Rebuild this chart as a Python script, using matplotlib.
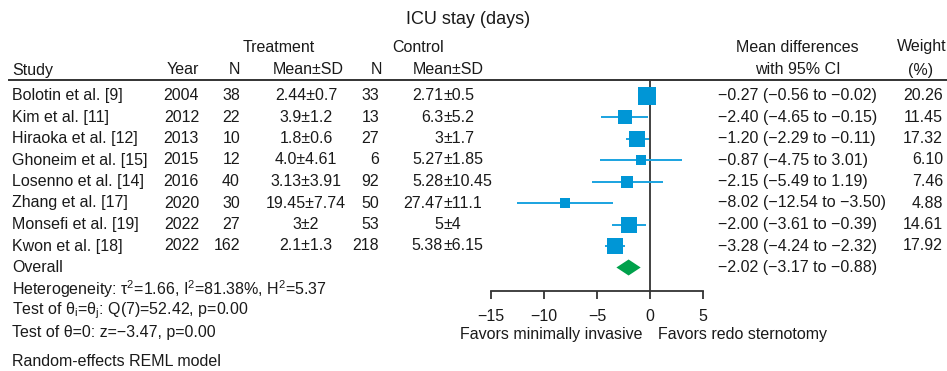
import matplotlib
matplotlib.use("Agg")
import numpy as np
import matplotlib.pyplot as plt

plt.rcParams['font.family'] = ['Liberation Sans', 'DejaVu Sans']
plt.rcParams['mathtext.fontset'] = 'custom'
plt.rcParams['mathtext.rm'] = 'Liberation Sans'
plt.rcParams['mathtext.it'] = 'Liberation Sans:italic'

studies = ["Bolotin et al. [9]", "Kim et al. [11]", "Hiraoka et al. [12]", "Ghoneim et al. [15]",
           "Losenno et al. [14]", "Zhang et al. [17]", "Monsefi et al. [19]", "Kwon et al. [18]"]
years = [2004, 2012, 2013, 2015, 2016, 2020, 2022, 2022]
n_trt = [38, 22, 10, 12, 40, 30, 27, 162]
msd_trt = ["2.44±0.7", "3.9±1.2", "1.8±0.6", "4.0±4.61", "3.13±3.91", "19.45±7.74", "3±2", "2.1±1.3"]
n_ctl = [33, 13, 27, 6, 92, 50, 53, 218]
msd_ctl = ["2.71±0.5", "6.3±5.2", "3±1.7", "5.27±1.85", "5.28±10.45", "27.47±11.1", "5±4", "5.38±6.15"]
est = [-0.27, -2.40, -1.20, -0.87, -2.15, -8.02, -2.00, -3.28]
lo = [-0.56, -4.65, -2.29, -4.75, -5.49, -12.54, -3.61, -4.24]
hi = [-0.02, -0.15, -0.11, 3.01, 1.19, -3.50, -0.39, -2.32]
weights = [20.26, 11.45, 17.32, 6.10, 7.46, 4.88, 14.61, 17.92]
overall = (-2.02, -3.17, -0.88)
xticks = [-15, -10, -5, 0, 5]

W, H = 947, 371
fig = plt.figure(figsize=(W / 100, H / 100), dpi=100)
FS = 11.5
TXT = '#1a1a1a'


def put(x, y, s, ha='left', size=FS, **kw):
    fig.text(x / W, 1 - y / H, s, ha=ha, va='center', fontsize=size, color=TXT, **kw)


def fmt(v):
    return f"{v:.2f}".replace('-', '\u2212')


# title and headers
put(468, 19, "ICU stay (days)", ha='center', size=13)
put(279, 47, "Treatment", ha='center')
put(418, 47, "Control", ha='center')
put(797, 47, "Mean differences", ha='center')
put(922, 47, "Weight", ha='center')
put(12, 70, "Study")
put(199, 70, "Year", ha='right')
put(240, 70, "N", ha='right')
put(308, 70, "Mean±SD", ha='center')
put(382, 70, "N", ha='right')
put(448, 70, "Mean±SD", ha='center')
put(798, 70, "with 95% CI", ha='center')
put(921, 70, "(%)", ha='center')
fig.add_artist(plt.Line2D([9 / W, 1], [1 - 80 / H] * 2, color='#333333', lw=1.4,
                          transform=fig.transFigure))

row0, step = 95.5, 21.5
for i in range(len(studies)):
    y = row0 + step * i
    put(12, y, studies[i])
    put(199, y, str(years[i]), ha='right')
    put(240, y, str(n_trt[i]), ha='right')
    put(306, y, msd_trt[i], ha='center')
    put(379, y, str(n_ctl[i]), ha='right')
    a, b = msd_ctl[i].split('±')
    put(443, y, a, ha='right')
    put(443, y, '±' + b, ha='left')
    put(718, y, f"{fmt(est[i])} ({fmt(lo[i])} to {fmt(hi[i])})")
    put(943, y, f"{weights[i]:.2f}", ha='right')

y_ov = row0 + step * 8
put(12, y_ov, "Overall")
put(718, y_ov, f"{fmt(overall[0])} ({fmt(overall[1])} to {fmt(overall[2])})")
put(12, 289, r"Heterogeneity: τ$^{2}$=1.66, I$^{2}$=81.38%, H$^{2}$=5.37")
put(12, 311, r"Test of θ$_{\mathrm{i}}$=θ$_{\mathrm{j}}$: Q(7)=52.42, p=0.00")
put(12, 332, "Test of θ=0: z=\u22123.47, p=0.00")
put(12, 362, "Random-effects REML model")

# forest panel
top_px, bot_px = 80, 290.5
ax = fig.add_axes([491 / W, 1 - bot_px / H, 212 / W, (bot_px - top_px) / H])
ax.set_xlim(-15, 5)
ax.set_ylim((bot_px - row0) / step, (top_px - row0) / step)
ax.patch.set_alpha(0)
for s in ['top', 'left', 'right']:
    ax.spines[s].set_visible(False)
ax.spines['bottom'].set_linewidth(1.3)
ax.spines['bottom'].set_color('#333333')
ax.axvline(0, color='#333333', lw=1.3, zorder=1)

rows = np.arange(len(studies))
ax.hlines(rows, lo, hi, color='#1aa3e0', lw=1.4, zorder=2)
for i in rows:
    side_px = 5.2 * weights[i] ** 0.41
    ax.plot(est[i], i, marker='s', ms=side_px * 0.72, mew=0, color='#0096d6', zorder=3)

hh = 8 / step
ax.fill([overall[1], overall[0], overall[2], overall[0]], [8, 8 - hh, 8, 8 + hh],
        color='#00a14b', lw=0, zorder=3)

ax.set_yticks([])
ax.set_xticks(xticks)
ax.tick_params(axis='x', direction='out', length=5.5, width=1.3, color='#333333',
               labelsize=FS, labelcolor=TXT, pad=7.5)

put(642, 334, "Favors minimally invasive", ha='right')
put(658, 334, "Favors redo sternotomy", ha='left')

fig.savefig("out.png", dpi=100)
